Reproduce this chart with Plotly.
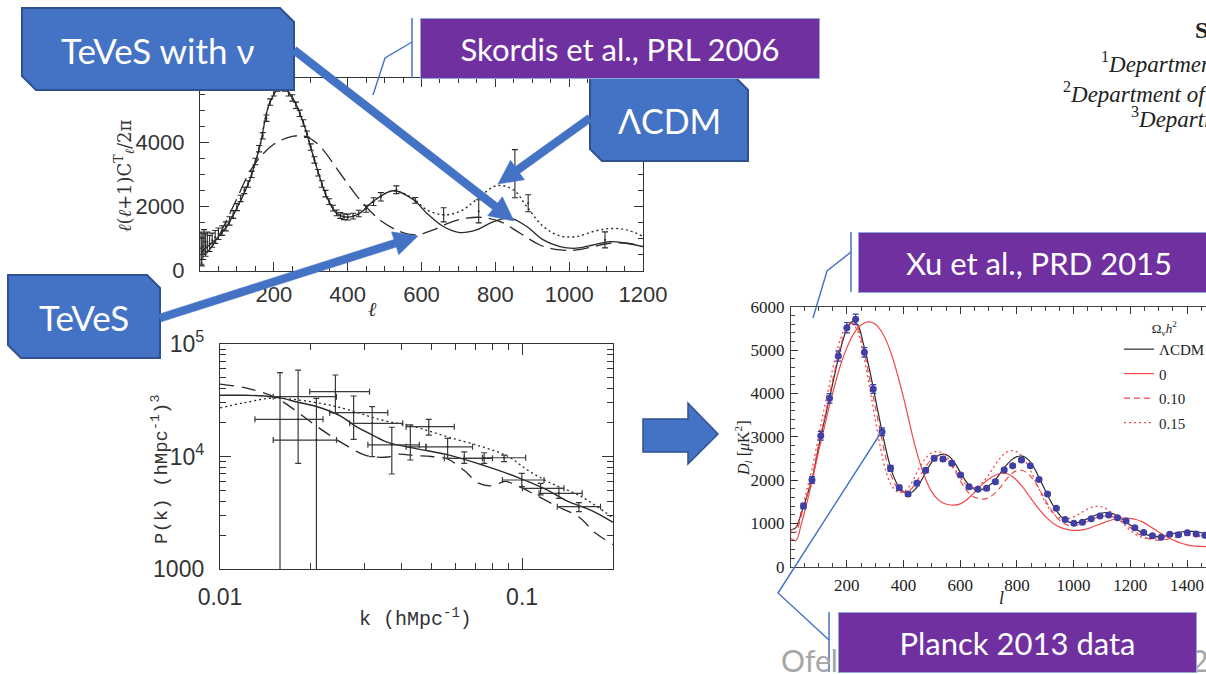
import numpy as np
import plotly.graph_objects as go

W, H = 1206, 674

# ---------------------------------------------------------------------------
# CMB temperature spectrum l(l+1)C_l/2pi [uK^2]  (Skordis et al., PRL 2006)
# ---------------------------------------------------------------------------
sk_l_teves_nu = [5, 20, 45, 72, 100, 135, 162, 189, 221, 253, 280, 307, 343, 370, 402,
                 433, 470, 524, 578, 614, 659, 704, 749, 795, 840, 885, 930, 975, 1020,
                 1065, 1110, 1156, 1200]
sk_teves_nu = [600, 750, 1000, 1375, 1950, 2834, 3875, 5230, 5750, 5334, 4604, 3563, 2313,
               1792, 1667, 1792, 2167, 2490, 2209, 1792, 1375, 1188, 1271, 1530, 1636, 1375,
               959, 750, 700, 800, 905, 855, 750]

sk_l_lcdm = [5, 20, 45, 72, 100, 135, 162, 189, 221, 253, 280, 307, 343, 370, 402, 433,
             470, 524, 578, 614, 659, 704, 749, 803, 849, 885, 930, 975, 1020, 1065, 1110,
             1156, 1200]
sk_lcdm = [600, 750, 1000, 1375, 1950, 2834, 3875, 5230, 5750, 5334, 4604, 3563, 2313, 1792,
           1667, 1792, 2167, 2490, 2240, 1900, 1740, 1844, 2209, 2646, 2521, 2000, 1375, 1084,
           1063, 1220, 1313, 1271, 1063]

sk_l_teves = [18, 45, 90, 144, 199, 253, 289, 325, 379, 433, 487, 542, 587, 632, 677, 722,
              767, 813, 867, 921, 975, 1020, 1065, 1110, 1156, 1200]
sk_teves = [542, 959, 2000, 3250, 3928, 4188, 4167, 3875, 3042, 2209, 1584, 1219, 1115, 1271,
            1500, 1636, 1656, 1530, 1167, 800, 646, 646, 750, 855, 855, 750]

sk_data_l = [3, 5, 8, 11, 15, 20, 26, 33, 41, 50, 60, 70, 80, 90, 100, 110, 120, 130, 140, 150,
             160, 170, 180, 190, 200, 210, 220, 230, 240, 250, 260, 270, 280, 290, 300, 310,
             320, 330, 340, 350, 360, 370, 380, 390, 400, 415, 430, 450, 470, 490, 532, 583,
             660, 755, 853, 889, 1097]
sk_data = [700, 600, 750, 900, 800, 900, 850, 950, 1050, 1150, 1250, 1380, 1550, 1750, 1980,
           2250, 2500, 2700, 3000, 3400, 3800, 4200, 4750, 5250, 5550, 5700, 5750, 5700, 5550,
           5380, 5150, 4900, 4600, 4250, 3850, 3450, 3050, 2700, 2400, 2150, 1950, 1800, 1720,
           1680, 1670, 1700, 1780, 1930, 2150, 2300, 2520, 2190, 1740, 1850, 3020, 2100, 960]
sk_data_err = [500, 450, 400, 380, 350, 300, 250, 220, 200, 180, 150, 140, 130, 120, 110, 100,
               100, 100, 100, 100, 100, 100, 100, 100, 110, 110, 110, 110, 110, 100, 100, 100,
               100, 100, 100, 100, 100, 100, 100, 90, 90, 90, 90, 90, 90, 90, 100, 110, 120,
               130, 120, 90, 220, 360, 750, 265, 250]

# ---------------------------------------------------------------------------
# Matter power spectrum P(k) [(h^-1 Mpc)^3]
# ---------------------------------------------------------------------------
pk_k_teves_nu = [0.01, 0.012, 0.014, 0.016, 0.018, 0.021, 0.025, 0.028, 0.032, 0.0364, 0.045,
                 0.0574, 0.075, 0.0957, 0.12, 0.14, 0.17, 0.2]
pk_teves_nu = [3.5e4, 3.5e4, 3.45e4, 3.3e4, 3.05e4, 2.77e4, 2.3e4, 1.87e4, 1.55e4, 1.32e4,
               1.17e4, 1.03e4, 8.3e3, 6.6e3, 5.1e3, 4.06e3, 3.3e3, 2.6e3]

pk_k_lcdm = [0.01, 0.012, 0.015, 0.021, 0.0266, 0.0345, 0.0441, 0.0564, 0.0738, 0.09, 0.104,
             0.123, 0.157, 0.2]
pk_lcdm = [2.7e4, 3.0e4, 3.3e4, 3.0e4, 2.6e4, 2.1e4, 1.84e4, 1.5e4, 1.22e4, 1.0e4, 7.6e3,
           5.9e3, 4.4e3, 2.85e3]

pk_k_teves = [0.01, 0.0125, 0.0154, 0.018, 0.021, 0.025, 0.0305, 0.0359, 0.0388, 0.044, 0.05,
              0.0567, 0.0644, 0.0717, 0.0803, 0.0877, 0.0963, 0.11, 0.1308, 0.1542, 0.1745, 0.2]
pk_teves = [4.4e4, 4.0e4, 3.3e4, 2.5e4, 1.84e4, 1.35e4, 1.02e4, 9.9e3, 1.05e4, 1.02e4, 1.0e4,
            9.5e3, 7.5e3, 5.8e3, 5.5e3, 6.0e3, 5.5e3, 4.6e3, 3.6e3, 2.9e3, 2.1e3, 1.65e3]

pk_data_k = [0.0158, 0.01814, 0.02085, 0.0241, 0.02769, 0.0319, 0.03705, 0.04267, 0.0491,
             0.05669, 0.06437, 0.07491, 0.08721, 0.0998, 0.1152, 0.1324, 0.1542]
pk_data = [3.40e4, 2.14e4, 1.40e4, 3.77e4, 2.45e4, 1.97e4, 1.27e4, 1.22e4, 1.84e4, 1.22e4,
           9.64e3, 9.64e3, 9.75e3, 6.18e3, 5.21e3, 4.71e3, 3.58e3]
pk_data_k_lo = [0.0150, 0.01305, 0.0150, 0.01982, 0.02307, 0.02686, 0.03087, 0.0413, 0.0413,
                0.04809, 0.05529, 0.06437, 0.07396, 0.0861, 0.1003, 0.1138, 0.1308]
pk_data_k_hi = [0.0243, 0.02193, 0.0243, 0.03126, 0.03593, 0.04027, 0.0457, 0.04809, 0.05965,
                0.06855, 0.07396, 0.0798, 0.1028, 0.1182, 0.1376, 0.1581, 0.1819]
pk_data_lo = [300, 8.69e3, 300, 2.42e4, 1.42e4, 9.96e3, 6.99e3, 9.31e3, 1.55e4, 9.64e3, 8.69e3,
              8.69e3, 9.0e3, 5.39e3, 4.55e3, 4.25e3, 3.23e3]
pk_data_hi = [5.56e4, 5.87e4, 3.29e4, 5.30e4, 3.45e4, 2.77e4, 1.82e4, 1.91e4, 2.14e4, 1.45e4,
              1.10e4, 1.08e4, 1.03e4, 7.08e3, 5.78e3, 5.21e3, 3.89e3]

# ---------------------------------------------------------------------------
# D_l [uK^2] for several Omega_nu h^2  (Xu et al., PRD 2015) + Planck 2013
# ---------------------------------------------------------------------------
xu_l = [3, 20, 40, 60, 80, 100, 120, 140, 160, 180, 200, 220, 240, 260, 280, 300, 320, 340,
        360, 380, 400, 420, 440, 460, 480, 500, 520, 540, 560, 580, 600, 620, 640, 660, 680,
        700, 720, 740, 760, 780, 800, 820, 840, 860, 880, 900, 920, 940, 960, 980, 1000, 1020,
        1040, 1060, 1080, 1100, 1120, 1140, 1160, 1180, 1200, 1220, 1240, 1260, 1280, 1300,
        1320, 1340, 1360, 1380, 1400, 1420, 1440, 1467]
xu_lcdm = [850, 900, 1250, 1650, 2100, 2750, 3350, 3930, 4520, 5080, 5480, 5660, 5550, 5100,
           4550, 3900, 3250, 2650, 2170, 1880, 1730, 1690, 1780, 1960, 2200, 2420, 2560, 2600,
           2550, 2400, 2180, 1970, 1820, 1770, 1790, 1860, 1980, 2150, 2320, 2460, 2540, 2550,
           2470, 2290, 2030, 1760, 1500, 1290, 1130, 1040, 1010, 1030, 1080, 1140, 1200, 1240,
           1250, 1220, 1150, 1060, 960, 870, 790, 735, 705, 695, 710, 740, 775, 800, 815, 815,
           800, 760]
xu_nu000 = [650, 600, 1000, 1500, 2050, 2650, 3200, 3750, 4250, 4700, 5050, 5330, 5520, 5620,
            5650, 5600, 5450, 5200, 4850, 4400, 3900, 3350, 2800, 2350, 1990, 1720, 1560, 1470,
            1430, 1420, 1450, 1530, 1650, 1780, 1910, 2020, 2100, 2150, 2150, 2100, 1990, 1840,
            1660, 1480, 1310, 1160, 1040, 950, 890, 855, 840, 840, 860, 900, 950, 1000, 1050,
            1090, 1115, 1120, 1115, 1090, 1040, 970, 890, 800, 720, 650, 590, 540, 505, 480,
            470, 465]
xu_nu010 = [800, 800, 1200, 1650, 2150, 2800, 3400, 4000, 4600, 5150, 5500, 5620, 5480, 5000,
            4350, 3700, 3050, 2450, 2050, 1800, 1720, 1750, 1900, 2120, 2330, 2480, 2550, 2530,
            2420, 2220, 1990, 1780, 1640, 1580, 1560, 1590, 1680, 1820, 1990, 2140, 2220, 2220,
            2140, 1990, 1780, 1540, 1320, 1140, 1020, 960, 950, 970, 1020, 1080, 1130, 1160,
            1170, 1150, 1090, 1000, 900, 800, 720, 660, 620, 610, 620, 650, 680, 710, 720, 715,
            700, 670]
xu_nu015 = [850, 900, 1300, 1800, 2350, 3000, 3650, 4250, 4850, 5300, 5580, 5600, 5400, 4850,
            4150, 3400, 2700, 2150, 1850, 1720, 1730, 1850, 2080, 2330, 2520, 2630, 2660, 2610,
            2470, 2270, 2060, 1900, 1830, 1850, 1950, 2120, 2320, 2500, 2630, 2680, 2650, 2530,
            2320, 2050, 1760, 1490, 1290, 1160, 1110, 1110, 1150, 1220, 1300, 1360, 1390, 1380,
            1320, 1220, 1090, 960, 840, 740, 680, 650, 650, 670, 710, 750, 780, 790, 780, 760,
            730, 690]

planck_l = [47, 77, 108, 139, 170, 200, 231, 262, 293, 324, 354, 385, 416, 447, 478, 508, 539,
            570, 601, 631, 662, 693, 724, 755, 785, 816, 847, 878, 908, 939, 970, 1001, 1031,
            1062, 1093, 1124, 1155, 1185, 1216, 1247, 1278, 1309, 1339, 1370, 1401, 1432, 1463]
planck_dl = [1400, 2000, 3023, 3885, 4862, 5515, 5708, 4946, 4100, 3115, 2270, 1823, 1677,
             1923, 2223, 2500, 2485, 2385, 2115, 1846, 1785, 1808, 1962, 2231, 2330, 2462, 2330,
             2015, 1677, 1346, 1092, 1000, 1023, 1108, 1169, 1192, 1131, 1054, 900, 792, 715,
             677, 746, 738, 785, 754, 723]
planck_err = [60, 80, 100, 110, 120, 120, 120, 110, 100, 90, 70, 60, 50, 50, 50, 50, 50, 50,
              45, 45, 40, 40, 40, 40, 40, 40, 40, 40, 35, 35, 30, 30, 30, 30, 30, 30, 30, 30,
              30, 30, 30, 30, 30, 30, 30, 30, 30]

# ---------------------------------------------------------------------------
INK = "#2a2a2a"
RED = "#f04848"
BLUE = "#4472C4"
BLUE_EDGE = "#2F528F"
PURPLE = "#7030A0"
SANS = "Lato, 'Open Sans', sans-serif"


def px(x):
    return x / W


def py(y):
    return 1 - y / H


def poly_path(pts, close=True):
    s = "M " + " L ".join(f"{px(x):.5f},{py(y):.5f}" for x, y in pts)
    return s + (" Z" if close else "")


def chamfer_box(x0, y0, x1, y1, c):
    return [(x0, y0), (x1 - c, y0), (x1, y0 + c), (x1, y1), (x0 + c, y1), (x0, y1 - c)]


def arrow_pts(x0, y0, x1, y1, w=8, hl=24, hw=24):
    p0, p1 = np.array([x0, y0], float), np.array([x1, y1], float)
    u = (p1 - p0) / np.linalg.norm(p1 - p0)
    n = np.array([-u[1], u[0]])
    b = p1 - u * hl
    pts = [p0 + n * w / 2, b + n * w / 2, b + n * hw / 2, p1,
           b - n * hw / 2, b - n * w / 2, p0 - n * w / 2]
    return [tuple(p) for p in pts]


fig = go.Figure()

# ---- top-left panel: CMB spectra ----
fig.add_trace(go.Scatter(x=sk_l_teves, y=sk_teves, mode="lines", xaxis="x", yaxis="y",
                         line=dict(color=INK, width=1.3, dash="16px,7px", shape="spline"),
                         showlegend=False, hoverinfo="skip"))
fig.add_trace(go.Scatter(x=sk_l_lcdm, y=sk_lcdm, mode="lines", xaxis="x", yaxis="y",
                         line=dict(color=INK, width=1.4, dash="2px,3px", shape="spline"),
                         showlegend=False, hoverinfo="skip"))
fig.add_trace(go.Scatter(x=sk_l_teves_nu, y=sk_teves_nu, mode="lines", xaxis="x", yaxis="y",
                         line=dict(color=INK, width=1.3, shape="spline"),
                         showlegend=False, hoverinfo="skip"))
fig.add_trace(go.Scatter(x=sk_data_l, y=sk_data, mode="markers", xaxis="x", yaxis="y",
                         marker=dict(size=2, color=INK),
                         error_y=dict(type="data", array=sk_data_err, color=INK,
                                      thickness=1.1, width=3),
                         showlegend=False, hoverinfo="skip"))

# ---- bottom-left panel: matter power spectrum ----
fig.add_trace(go.Scatter(x=pk_k_teves, y=pk_teves, mode="lines", xaxis="x2", yaxis="y2",
                         line=dict(color=INK, width=1.3, dash="14px,8px", shape="spline"),
                         showlegend=False, hoverinfo="skip"))
fig.add_trace(go.Scatter(x=pk_k_lcdm, y=pk_lcdm, mode="lines", xaxis="x2", yaxis="y2",
                         line=dict(color=INK, width=1.3, dash="2px,3px", shape="spline"),
                         showlegend=False, hoverinfo="skip"))
fig.add_trace(go.Scatter(x=pk_k_teves_nu, y=pk_teves_nu, mode="lines", xaxis="x2", yaxis="y2",
                         line=dict(color=INK, width=1.4, shape="spline"),
                         showlegend=False, hoverinfo="skip"))
k_c = np.array(pk_data_k)
p_c = np.array(pk_data)
fig.add_trace(go.Scatter(
    x=pk_data_k, y=pk_data, mode="markers", xaxis="x2", yaxis="y2",
    marker=dict(size=2, color=INK),
    error_x=dict(type="data", symmetric=False, array=np.array(pk_data_k_hi) - k_c,
                 arrayminus=k_c - np.array(pk_data_k_lo), color="#3a3a3a", thickness=1.2, width=3),
    error_y=dict(type="data", symmetric=False, array=np.array(pk_data_hi) - p_c,
                 arrayminus=p_c - np.array(pk_data_lo), color="#3a3a3a", thickness=1.2, width=3),
    showlegend=False, hoverinfo="skip"))

# ---- right panel: D_l for massive neutrinos ----
fig.add_trace(go.Scatter(x=xu_l, y=xu_lcdm, mode="lines", name="ΛCDM", xaxis="x3", yaxis="y3",
                         legendgroup="a", line=dict(color=INK, width=1.2, shape="spline")))
fig.add_trace(go.Scatter(x=xu_l, y=xu_nu000, mode="lines", name="0", xaxis="x3", yaxis="y3",
                         legendgroup="b", line=dict(color=RED, width=1.2, shape="spline")))
fig.add_trace(go.Scatter(x=xu_l, y=xu_nu010, mode="lines", name="0.10", xaxis="x3", yaxis="y3",
                         legendgroup="c",
                         line=dict(color=RED, width=1.2, dash="6px,4px", shape="spline")))
fig.add_trace(go.Scatter(x=xu_l, y=xu_nu015, mode="lines", name="0.15", xaxis="x3", yaxis="y3",
                         legendgroup="d",
                         line=dict(color=RED, width=1.3, dash="2px,3px", shape="spline")))
fig.add_trace(go.Scatter(x=planck_l, y=planck_dl, mode="markers", xaxis="x3", yaxis="y3",
                         marker=dict(size=7, color="#3f3fa6"),
                         error_y=dict(type="data", array=planck_err, color="#3f3fa6",
                                      thickness=1.2, width=3),
                         showlegend=False, hoverinfo="skip"))

# ---------------- axes ----------------
frame = dict(showline=True, linecolor="#333", linewidth=1.3, ticks="inside", tickcolor="#333",
             tickwidth=1.1, showgrid=False, zeroline=False, mirror="allticks", automargin=False)
tl_font = dict(family="Liberation Sans, Arial", size=22, color="#333")
bl_font = dict(family="Liberation Sans, Arial", size=23, color="#333")
r_font = dict(family="Liberation Serif, serif", size=17, color="#222")

fig.update_layout(
    xaxis=dict(frame, domain=[px(200), px(643)], anchor="y", range=[0, 1200],
               tickvals=[200, 400, 600, 800, 1000, 1200], ticklen=9, tickfont=tl_font,
               ticklabelstandoff=4,
               minor=dict(ticks="inside", dtick=50, ticklen=5, tickcolor="#333", showgrid=False)),
    yaxis=dict(frame, domain=[py(270.7), py(78)], anchor="x", range=[0, 6000],
               tickvals=[0, 2000, 4000, 6000], ticklen=9, tickfont=tl_font, ticklabelstandoff=10,
               minor=dict(ticks="inside", dtick=500, ticklen=5, tickcolor="#333", showgrid=False)),
    xaxis2=dict(frame, domain=[px(220), px(613)], anchor="y2", type="log",
                range=[-2, np.log10(0.2)], tickvals=[0.01, 0.1], ticktext=["0.01", "0.1"],
                ticklen=11, tickfont=bl_font, ticklabelstandoff=7,
                minor=dict(ticks="inside", ticklen=6, tickcolor="#333", showgrid=False,
                           tickvals=[0.02, 0.03, 0.04, 0.05, 0.06, 0.07, 0.08, 0.09, 0.2])),
    yaxis2=dict(frame, domain=[py(569), py(344)], anchor="x2", type="log", range=[3, 5],
                tickvals=[1000, 10000, 100000],
                ticktext=["1000", "10<sup>4</sup>", "10<sup>5</sup>"],
                ticklen=11, tickfont=bl_font, ticklabelstandoff=10,
                minor=dict(ticks="inside", ticklen=6, tickcolor="#333", showgrid=False,
                           tickvals=[2e3, 3e3, 4e3, 5e3, 6e3, 7e3, 8e3, 9e3,
                                     2e4, 3e4, 4e4, 5e4, 6e4, 7e4, 8e4, 9e4])),
    xaxis3=dict(frame, domain=[px(791), 1.0], anchor="y3", range=[3, 1467],
                tickvals=[200, 400, 600, 800, 1000, 1200, 1400], ticklen=7, tickfont=r_font,
                ticklabelstandoff=3, linecolor="#444", linewidth=1.1,
                minor=dict(ticks="inside", dtick=50, ticklen=4, tickcolor="#444", showgrid=False)),
    yaxis3=dict(frame, domain=[py(566.7), py(306.7)], anchor="x3", range=[0, 6000],
                mirror=False, dtick=1000, ticklen=7, tickfont=r_font, ticklabelstandoff=2,
                linecolor="#444", linewidth=1.1,
                minor=dict(ticks="inside", dtick=200, ticklen=4, tickcolor="#444", showgrid=False)),
)

# ---------------- shapes: callouts, arrows ----------------
shapes = []
for box in [(22, 8, 294, 90, 14), (590, 78, 748, 161, 12), (8, 275, 160, 358, 13)]:
    shapes.append(dict(type="path", xref="paper", yref="paper", layer="above",
                       path=poly_path(chamfer_box(*box)), fillcolor=BLUE,
                       line=dict(color=BLUE_EDGE, width=2)))
for a in [(294, 50, 514, 221), (590, 118, 498, 184), (160, 318, 418, 236)]:
    shapes.append(dict(type="path", xref="paper", yref="paper", layer="above",
                       path=poly_path(arrow_pts(*a)), fillcolor=BLUE,
                       line=dict(color=BLUE, width=0.5)))
# big arrow between the panels
shapes.append(dict(type="path", xref="paper", yref="paper", layer="above",
                   path=poly_path([(643, 419), (688, 419), (688, 403), (718, 434),
                                   (688, 464), (688, 452), (643, 452)]),
                   fillcolor=BLUE, line=dict(color=BLUE_EDGE, width=1.5)))
# thin leader lines for the reference labels
for bar, leg in [((412, 18, 78), [(412, 42), (385, 58), (373, 95)]),
                 ((851, 232, 292), [(851, 252), (827, 271), (813, 318)]),
                 ((829, 612, 672), [(829, 640), (778, 593), (882, 431)])]:
    x, y0, y1 = bar
    shapes.append(dict(type="line", xref="paper", yref="paper", layer="above",
                       x0=px(x), x1=px(x), y0=py(y0), y1=py(y1),
                       line=dict(color=BLUE, width=1.5)))
    shapes.append(dict(type="path", xref="paper", yref="paper", layer="above",
                       path=poly_path(leg, close=False), line=dict(color=BLUE, width=1.4)))
fig.update_layout(shapes=shapes)

# ---------------- annotations ----------------
ann = []


def text(x, y, s, size, color="white", family=SANS, xanchor="center", **kw):
    ann.append(dict(x=px(x), y=py(y), xref="paper", yref="paper", text=s, showarrow=False,
                    xanchor=xanchor, yanchor="middle",
                    font=dict(family=family, size=size, color=color), **kw))


def label_box(x0, y0, w, h, s, size=31):
    ann.append(dict(x=px(x0), y=py(y0), xref="paper", yref="paper", text=s, showarrow=False,
                    xanchor="left", yanchor="top", width=w, height=h, align="center",
                    valign="middle", bgcolor=PURPLE, bordercolor="#8FAADC", borderwidth=1,
                    borderpad=0, font=dict(family=SANS, size=size, color="white")))


# footer (partly hidden by the Planck label)
text(779, 660, "Ofelia Pisanti – Neutrino 2016 2 July", 30, color="#a6a6a6", xanchor="left")

text(158, 50, "TeVeS with ν", 35)
text(669, 120, "ΛCDM", 34)
text(84, 317, "TeVeS", 35)

label_box(420, 18, 398, 59, "Skordis et al., PRL 2006")
label_box(858, 232, 360, 59, "Xu et al., PRD 2015")
label_box(838, 612, 357, 59, "Planck 2013 data")

# paper header fragment, top right
serif_it = "Liberation Serif, serif"
text(1193, 30, "<b>S</b>", 24, color="#222", family=serif_it, xanchor="left")
text(1099, 63, "<sup>1</sup><i>Department of Physics</i>", 23, color="#222",
     family=serif_it, xanchor="left")
text(1061, 92, "<sup>2</sup><i>Department of Astrophysics</i>", 23, color="#222",
     family=serif_it, xanchor="left")
text(1129, 118, "<sup>3</sup><i>Department of Physics</i>", 23, color="#222",
     family=serif_it, xanchor="left")

# axis titles
text(124, 176, "<i>ℓ</i>(<i>ℓ</i>+1)C<sup>T</sup><sub><i>ℓ</i></sub>/2π", 18, color="#333",
     family="DejaVu Serif, serif", textangle=-90)
text(372, 309, "<i>ℓ</i>", 20, color="#333", family="DejaVu Serif, serif")
text(160, 470, "P(k) (hMpc<sup>-1</sup>)<sup>3</sup>", 19, color="#333",
     family="Liberation Mono, monospace", textangle=-90)
text(415, 618, "k (hMpc<sup>-1</sup>)", 20, color="#333", family="Liberation Mono, monospace")
text(743, 448, "<i>D<sub>l</sub></i> [<i>μ</i>K<sup>2</sup>]", 16, color="#222",
     family=serif_it, textangle=-90)
text(1001, 598, "<i>l</i>", 18, color="#222", family=serif_it)

fig.update_layout(
    annotations=ann,
    width=W, height=H, margin=dict(l=0, r=0, t=0, b=0, autoexpand=False),
    paper_bgcolor="white", plot_bgcolor="white",
    legend=dict(x=px(1119), y=py(316), xanchor="left", yanchor="top",
                bgcolor="rgba(0,0,0,0)", borderwidth=0, tracegroupgap=2,
                font=dict(family="Liberation Serif, serif", size=15, color="#222"),
                title=dict(text="Ω<sub>ν</sub><i>h</i><sup>2</sup>", side="top center",
                           font=dict(family="Liberation Serif, serif", size=13, color="#222"))),
)

fig.write_html("out.html")
